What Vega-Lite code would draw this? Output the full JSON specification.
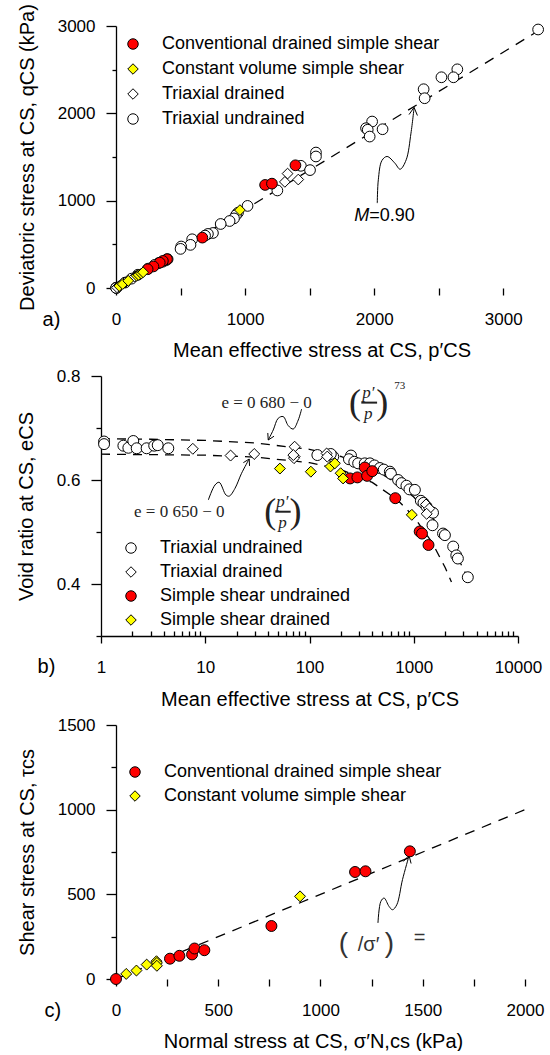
{
 "$schema": "https://vega.github.io/schema/vega-lite/v6.json",
 "padding": {"left": 16, "top": 3, "right": 0, "bottom": 0},
 "spacing": 7,
 "config": {
  "view": {"stroke": null},
  "font": "Liberation Sans",
  "axis": {"grid": false, "domainColor": "black", "domainWidth": 1.3, "tickColor": "black", "tickWidth": 1.3, "labelColor": "black", "titleColor": "black", "labelFont": "Liberation Sans", "titleFont": "Liberation Sans", "labelFontSize": 17, "titleFontSize": 20, "titleFontWeight": "normal", "labelFlush": false, "labelOverlap": false},
  "legend": {"title": null, "orient": "none", "padding": 0, "labelFont": "Liberation Sans", "labelFontSize": 18, "labelColor": "black", "labelOffset": 20, "labelLimit": 500, "rowPadding": 7, "symbolStrokeWidth": 1, "symbolSize": 110},
  "text": {"color": "black"}
 },
 "datasets": {
  "one": [{"k": 1}],
  "a_line": [{"x": 0, "y": 0}, {"x": 3300, "y": 2970}],
  "a_arrow": [{"i":0,"x":2024,"y":972},{"i":1,"x":2032,"y":1239},{"i":2,"x":2060,"y":1460},{"i":3,"x":2100,"y":1506},{"i":4,"x":2160,"y":1430},{"i":5,"x":2201,"y":1360},{"i":6,"x":2248,"y":1468},{"i":7,"x":2285,"y":1773},{"i":8,"x":2309,"y":2065}],
  "a_head": [{"i":0,"x":2270,"y":1986},{"i":1,"x":2309,"y":2068},{"i":2,"x":2335,"y":1975}],
  "a_M": [{"x": 1962, "y": 827, "t": "M"}],
  "a_M2": [{"x": 1962, "y": 827, "t": "=0.90"}],
  "a_lab": [{"x": -500, "y": -363, "t": "a)"}],
  "a_pts": [
   {"s":"Triaxial undrained","x":3270,"y":2960},{"s":"Triaxial undrained","x":2644,"y":2504},{"s":"Triaxial undrained","x":2614,"y":2413},{"s":"Triaxial undrained","x":2521,"y":2413},{"s":"Triaxial undrained","x":2383,"y":2276},{"s":"Triaxial undrained","x":2391,"y":2173},{"s":"Triaxial undrained","x":1984,"y":1906},{"s":"Triaxial undrained","x":1937,"y":1830},{"s":"Triaxial undrained","x":1950,"y":1812},{"s":"Triaxial undrained","x":1965,"y":1734},{"s":"Triaxial undrained","x":2065,"y":1818},{"s":"Triaxial undrained","x":1549,"y":1551},{"s":"Triaxial undrained","x":1549,"y":1506},{"s":"Triaxial undrained","x":1432,"y":1399},{"s":"Triaxial undrained","x":1503,"y":1350},{"s":"Triaxial undrained","x":1250,"y":1117},{"s":"Triaxial undrained","x":1019,"y":940},{"s":"Triaxial undrained","x":945,"y":862},{"s":"Triaxial undrained","x":930,"y":835},{"s":"Triaxial undrained","x":914,"y":797},{"s":"Triaxial undrained","x":880,"y":767},{"s":"Triaxial undrained","x":811,"y":733},{"s":"Triaxial undrained","x":751,"y":630},{"s":"Triaxial undrained","x":712,"y":619},{"s":"Triaxial undrained","x":690,"y":600},{"s":"Triaxial undrained","x":590,"y":558},{"s":"Triaxial undrained","x":577,"y":494},{"s":"Triaxial undrained","x":505,"y":475},{"s":"Triaxial undrained","x":500,"y":448},{"s":"Triaxial undrained","x":400,"y":330},{"s":"Triaxial undrained","x":385,"y":315},{"s":"Triaxial undrained","x":360,"y":300},{"s":"Triaxial undrained","x":330,"y":285},{"s":"Triaxial undrained","x":300,"y":265},{"s":"Triaxial undrained","x":250,"y":222},{"s":"Triaxial undrained","x":170,"y":152},{"s":"Triaxial undrained","x":120,"y":107},{"s":"Triaxial undrained","x":70,"y":62},{"s":"Triaxial undrained","x":4,"y":4},{"s":"Triaxial undrained","x":3,"y":3},{"s":"Triaxial undrained","x":2,"y":2},{"s":"Triaxial undrained","x":1,"y":1},
   {"s":"Triaxial drained","x":1329,"y":1310},{"s":"Triaxial drained","x":1412,"y":1242},{"s":"Triaxial drained","x":1308,"y":1215},{"s":"Triaxial drained","x":150,"y":135},{"s":"Triaxial drained","x":144,"y":130},{"s":"Triaxial drained","x":72,"y":65},{"s":"Triaxial drained","x":70,"y":63},{"s":"Triaxial drained","x":29,"y":26},{"s":"Triaxial drained","x":17,"y":15},{"s":"Triaxial drained","x":8,"y":7},
   {"s":"Conventional drained simple shear","x":1390,"y":1405},{"s":"Conventional drained simple shear","x":1155,"y":1180},{"s":"Conventional drained simple shear","x":1208,"y":1195},{"s":"Conventional drained simple shear","x":669,"y":577},{"s":"Conventional drained simple shear","x":395,"y":330},{"s":"Conventional drained simple shear","x":363,"y":310},{"s":"Conventional drained simple shear","x":339,"y":290},{"s":"Conventional drained simple shear","x":290,"y":247},{"s":"Conventional drained simple shear","x":245,"y":215},
   {"s":"Constant volume simple shear","x":25,"y":22},{"s":"Constant volume simple shear","x":52,"y":45},{"s":"Constant volume simple shear","x":95,"y":82},{"s":"Constant volume simple shear","x":160,"y":140},{"s":"Constant volume simple shear","x":175,"y":150},{"s":"Constant volume simple shear","x":196,"y":165},{"s":"Constant volume simple shear","x":210,"y":180},{"s":"Constant volume simple shear","x":960,"y":892}
  ],
  "b_curves": [
   {"g":"u","x":1,"y":0.6793},{"g":"u","x":3,"y":0.6784},{"g":"u","x":10,"y":0.6761},{"g":"u","x":30,"y":0.6713},{"g":"u","x":100,"y":0.659},{"g":"u","x":200,"y":0.6452},{"g":"u","x":400,"y":0.6222},{"g":"u","x":700,"y":0.593},{"g":"u","x":1000,"y":0.5672},{"g":"u","x":1500,"y":0.5284},{"g":"u","x":2000,"y":0.4929},{"g":"u","x":2500,"y":0.4599},{"g":"u","x":3000,"y":0.4284},{"g":"u","x":3300,"y":0.4104},
   {"g":"l","x":1,"y":0.6497},{"g":"l","x":10,"y":0.6477},{"g":"l","x":30,"y":0.6441},{"g":"l","x":100,"y":0.6334},{"g":"l","x":200,"y":0.6199},{"g":"l","x":400,"y":0.5954},{"g":"l","x":700,"y":0.5615},{"g":"l","x":1000,"y":0.5298},{"g":"l","x":1500,"y":0.4797},{"g":"l","x":2000,"y":0.4317},{"g":"l","x":2300,"y":0.4037}
  ],
  "b_arrow": [
   {"g":"u","i":0,"x":84,"y":0.7365},{"g":"u","i":1,"x":78,"y":0.7154},{"g":"u","i":2,"x":69.8,"y":0.698},{"g":"u","i":3,"x":62.5,"y":0.7046},{"g":"u","i":4,"x":56,"y":0.7219},{"g":"u","i":5,"x":50.1,"y":0.7187},{"g":"u","i":6,"x":44.9,"y":0.6962},{"g":"u","i":7,"x":40.2,"y":0.6769},
   {"g":"l","i":0,"x":10.7,"y":0.5615},{"g":"l","i":1,"x":12.4,"y":0.5904},{"g":"l","i":2,"x":13.6,"y":0.5956},{"g":"l","i":3,"x":15.8,"y":0.5712},{"g":"l","i":4,"x":17,"y":0.569},{"g":"l","i":5,"x":19.3,"y":0.584},{"g":"l","i":6,"x":22.3,"y":0.6129},{"g":"l","i":7,"x":26.4,"y":0.6404}
  ],
  "b_head": [
   {"g":"u","i":0,"x":45.7,"y":0.6842},{"g":"u","i":1,"x":40.2,"y":0.6769},{"g":"u","i":2,"x":39.8,"y":0.6904},
   {"g":"l","i":0,"x":26.6,"y":0.6271},{"g":"l","i":1,"x":26.4,"y":0.6404},{"g":"l","i":2,"x":23.2,"y":0.6333}
  ],
  "b_eq": [{"x":38.8,"y":0.7475,"t":"e = 0 680 − 0"},{"x":5.63,"y":0.538,"t":"e = 0 650 − 0"}],
  "b_frac": [{"x":366,"y":0.767,"t":"p′"},{"x":366,"y":0.727,"t":"p"},{"x":55,"y":0.557,"t":"p′"},{"x":55,"y":0.518,"t":"p"}],
  "b_paren": [{"x":273,"y":0.748,"t":"("},{"x":500,"y":0.748,"t":")"},{"x":42,"y":0.539,"t":"("},{"x":73.5,"y":0.539,"t":")"}],
  "b_bar": [{"x":314,"x2":445,"y":0.7488},{"x":47,"x2":66,"y":0.539}],
  "b_exp": [{"x":736,"y":0.781,"t":"73"}],
  "b_lab": [{"x":0.3,"y":0.241,"t":"b)"}],
  "b_pts": [
   {"s":"Triaxial undrained","x":1.07,"y":0.674},{"s":"Triaxial undrained","x":1.07,"y":0.669},{"s":"Triaxial undrained","x":1.64,"y":0.666},{"s":"Triaxial undrained","x":1.83,"y":0.662},{"s":"Triaxial undrained","x":2.04,"y":0.675},{"s":"Triaxial undrained","x":2.2,"y":0.661},{"s":"Triaxial undrained","x":2.74,"y":0.661},{"s":"Triaxial undrained","x":3.24,"y":0.666},{"s":"Triaxial undrained","x":3.5,"y":0.667},{"s":"Triaxial undrained","x":4.42,"y":0.661},{"s":"Triaxial undrained","x":119,"y":0.648},{"s":"Triaxial undrained","x":169,"y":0.645},{"s":"Triaxial undrained","x":160,"y":0.65},{"s":"Triaxial undrained","x":250,"y":0.647},{"s":"Triaxial undrained","x":239,"y":0.64},{"s":"Triaxial undrained","x":269,"y":0.635},{"s":"Triaxial undrained","x":293,"y":0.632},{"s":"Triaxial undrained","x":339,"y":0.632},{"s":"Triaxial undrained","x":380,"y":0.632},{"s":"Triaxial undrained","x":420,"y":0.628},{"s":"Triaxial undrained","x":473,"y":0.623},{"s":"Triaxial undrained","x":516,"y":0.62},{"s":"Triaxial undrained","x":590,"y":0.616},{"s":"Triaxial undrained","x":604,"y":0.612},{"s":"Triaxial undrained","x":708,"y":0.6},{"s":"Triaxial undrained","x":763,"y":0.594},{"s":"Triaxial undrained","x":851,"y":0.589},{"s":"Triaxial undrained","x":910,"y":0.582},{"s":"Triaxial undrained","x":1025,"y":0.581},{"s":"Triaxial undrained","x":1170,"y":0.56},{"s":"Triaxial undrained","x":1240,"y":0.556},{"s":"Triaxial undrained","x":1325,"y":0.549},{"s":"Triaxial undrained","x":1430,"y":0.54},{"s":"Triaxial undrained","x":1530,"y":0.537},{"s":"Triaxial undrained","x":1513,"y":0.513},{"s":"Triaxial undrained","x":1910,"y":0.497},{"s":"Triaxial undrained","x":1990,"y":0.494},{"s":"Triaxial undrained","x":2390,"y":0.472},{"s":"Triaxial undrained","x":2560,"y":0.455},{"s":"Triaxial undrained","x":2650,"y":0.449},{"s":"Triaxial undrained","x":3300,"y":0.413},
   {"s":"Triaxial drained","x":7.6,"y":0.66},{"s":"Triaxial drained","x":17.5,"y":0.647},{"s":"Triaxial drained","x":29.5,"y":0.65},{"s":"Triaxial drained","x":72,"y":0.664},{"s":"Triaxial drained","x":72,"y":0.645},{"s":"Triaxial drained","x":71,"y":0.642},{"s":"Triaxial drained","x":70,"y":0.648},{"s":"Triaxial drained","x":146,"y":0.651},{"s":"Triaxial drained","x":148,"y":0.645},{"s":"Triaxial drained","x":1310,"y":0.553},{"s":"Triaxial drained","x":1410,"y":0.545},{"s":"Triaxial drained","x":1330,"y":0.535},
   {"s":"Simple shear undrained","x":245,"y":0.603},{"s":"Simple shear undrained","x":288,"y":0.605},{"s":"Simple shear undrained","x":339,"y":0.624},{"s":"Simple shear undrained","x":357,"y":0.608},{"s":"Simple shear undrained","x":400,"y":0.617},{"s":"Simple shear undrained","x":665,"y":0.565},{"s":"Simple shear undrained","x":1140,"y":0.501},{"s":"Simple shear undrained","x":1200,"y":0.497},{"s":"Simple shear undrained","x":1385,"y":0.475},
   {"s":"Simple shear drained","x":52,"y":0.622},{"s":"Simple shear drained","x":103,"y":0.616},{"s":"Simple shear drained","x":159,"y":0.626},{"s":"Simple shear drained","x":175,"y":0.632},{"s":"Simple shear drained","x":199,"y":0.613},{"s":"Simple shear drained","x":210,"y":0.603},{"s":"Simple shear drained","x":958,"y":0.533}
  ],
  "c_line": [{"x":0,"y":0},{"x":2000,"y":1000}],
  "c_arrow": [{"i":0,"x":1281,"y":331},{"i":1,"x":1295,"y":458},{"i":2,"x":1311,"y":478},{"i":3,"x":1335,"y":429},{"i":4,"x":1352,"y":409},{"i":5,"x":1373,"y":438},{"i":6,"x":1401,"y":587},{"i":7,"x":1433,"y":728}],
  "c_head": [{"i":0,"x":1405,"y":694},{"i":1,"x":1433,"y":730},{"i":2,"x":1443,"y":682}],
  "c_par": [{"x":1112,"y":205,"t":"("},{"x":1337,"y":205,"t":")"}],
  "c_sig": [{"x":1235,"y":203,"t":"/σ′"},{"x":1485,"y":242,"t":"="}],
  "c_lab": [{"x":-309,"y":-191,"t":"c)"}],
  "c_pts": [
   {"s":"Constant volume simple shear","x":50,"y":30},{"s":"Constant volume simple shear","x":100,"y":50},{"s":"Constant volume simple shear","x":150,"y":85},{"s":"Constant volume simple shear","x":198,"y":105},{"s":"Constant volume simple shear","x":200,"y":95},{"s":"Constant volume simple shear","x":200,"y":78},{"s":"Constant volume simple shear","x":900,"y":488},
   {"s":"Conventional drained simple shear","x":0,"y":0},{"s":"Conventional drained simple shear","x":264,"y":120},{"s":"Conventional drained simple shear","x":310,"y":137},{"s":"Conventional drained simple shear","x":372,"y":145},{"s":"Conventional drained simple shear","x":384,"y":180},{"s":"Conventional drained simple shear","x":432,"y":170},{"s":"Conventional drained simple shear","x":760,"y":313},{"s":"Conventional drained simple shear","x":1169,"y":632},{"s":"Conventional drained simple shear","x":1220,"y":636},{"s":"Conventional drained simple shear","x":1437,"y":754}
  ]
 },
 "vconcat": [
  {
   "width": 441, "height": 262,
   "encoding": {
    "x": {"field": "x", "type": "quantitative", "scale": {"domain": [-116.2, 3300], "nice": false, "zero": false},
     "axis": {"title": "Mean effective stress at CS, p′CS", "domain": false, "values": [0,500,1000,1500,2000,2500,3000], "format": "d", "labelExpr": "datum.value % 1000 === 0 ? datum.label : ''", "tickSize": 7, "labelPadding": 16, "titlePadding": 13}},
    "y": {"field": "y", "type": "quantitative", "scale": {"domain": [0, 3000], "nice": false, "zero": false},
     "axis": {"title": "Deviatoric stress at CS, qCS (kPa)", "offset": -15, "values": [0,500,1000,1500,2000,2500,3000], "format": "d", "labelExpr": "datum.value % 1000 === 0 ? datum.label : ''", "tickSize": {"condition": {"test": "datum.value % 1000 === 0", "value": 10}, "value": 4}, "labelPadding": 11, "titlePadding": 20}}
   },
   "layer": [
    {"data": {"name": "one"}, "mark": {"type": "rule", "color": "black", "strokeWidth": 1.3}, "encoding": {"x": {"datum": 0}, "x2": {"datum": 3300}, "y": {"datum": 0}}},
    {"data": {"name": "a_line"}, "mark": {"type": "line", "color": "black", "strokeWidth": 1.3, "strokeDash": [10, 8]}, "encoding": {}},
    {"data": {"name": "a_arrow"}, "mark": {"type": "line", "color": "black", "strokeWidth": 1, "interpolate": "catmull-rom"}, "encoding": {"order": {"field": "i", "type": "quantitative"}}},
    {"data": {"name": "a_head"}, "mark": {"type": "line", "color": "black", "strokeWidth": 1}, "encoding": {"order": {"field": "i", "type": "quantitative"}}},
    {"data": {"name": "a_pts"}, "mark": {"type": "point", "filled": true, "strokeWidth": 1, "size": 115, "opacity": 1},
     "encoding": {
      "fill": {"field": "s", "type": "nominal", "scale": {"domain": ["Conventional drained simple shear", "Constant volume simple shear", "Triaxial drained", "Triaxial undrained"], "range": ["#ff0000", "#ffff00", "#ffffff", "#ffffff"]}, "legend": {"legendX": 23, "legendY": 9, "rowPadding": 7}},
      "stroke": {"field": "s", "type": "nominal", "scale": {"domain": ["Conventional drained simple shear", "Constant volume simple shear", "Triaxial drained", "Triaxial undrained"], "range": ["#000000", "#000000", "#000000", "#000000"]}, "legend": {"legendX": 23, "legendY": 9, "rowPadding": 7}},
      "shape": {"field": "s", "type": "nominal", "scale": {"domain": ["Conventional drained simple shear", "Constant volume simple shear", "Triaxial drained", "Triaxial undrained"], "range": ["circle", "diamond", "diamond", "circle"]}, "legend": {"legendX": 23, "legendY": 9, "rowPadding": 7}}
     }},
    {"data": {"name": "a_M"}, "mark": {"type": "text", "align": "right", "baseline": "middle", "fontStyle": "italic", "fontSize": 18, "font": "Liberation Sans"}, "encoding": {"text": {"field": "t"}}},
    {"data": {"name": "a_M2"}, "mark": {"type": "text", "align": "left", "baseline": "middle", "fontSize": 18, "font": "Liberation Sans"}, "encoding": {"text": {"field": "t"}}},
    {"data": {"name": "a_lab"}, "mark": {"type": "text", "align": "center", "baseline": "middle", "fontSize": 20, "font": "Liberation Sans"}, "encoding": {"text": {"field": "t"}}}
   ]
  },
  {
   "width": 417, "height": 260,
   "encoding": {
    "x": {"field": "x", "type": "quantitative", "scale": {"type": "log", "domain": [1, 10000], "nice": false},
     "axis": {"title": "Mean effective stress at CS, p′CS", "values": [1,2,3,4,5,6,7,8,9,10,20,30,40,50,60,70,80,90,100,200,300,400,500,600,700,800,900,1000,2000,3000,4000,5000,6000,7000,8000,9000,10000], "labelExpr": "indexof([1,10,100,1000,10000], datum.value) >= 0 ? format(datum.value, 'd') : ''", "tickSize": {"condition": {"test": "indexof([1,10,100,1000,10000], datum.value) >= 0", "value": 7}, "value": -5}, "labelPadding": 16, "titlePadding": 14}},
    "y": {"field": "y", "type": "quantitative", "scale": {"domain": [0.3, 0.8], "nice": false, "zero": false},
     "axis": {"title": "Void ratio at CS, eCS", "values": [0.3,0.4,0.5,0.6,0.7,0.8], "labelExpr": "(round(datum.value*10) % 2 === 0 && datum.value > 0.35) ? format(datum.value, '.1f') : ''", "tickSize": {"condition": {"test": "round(datum.value*10) % 2 === 0", "value": 10}, "value": 5}, "labelPadding": 11, "titlePadding": 20}}
   },
   "layer": [
    {"data": {"name": "b_curves"}, "mark": {"type": "line", "color": "black", "strokeWidth": 1.3, "strokeDash": [9, 7]}, "encoding": {"detail": {"field": "g"}}},
    {"data": {"name": "b_arrow"}, "mark": {"type": "line", "color": "black", "strokeWidth": 1, "interpolate": "catmull-rom"}, "encoding": {"detail": {"field": "g"}, "order": {"field": "i", "type": "quantitative"}}},
    {"data": {"name": "b_head"}, "mark": {"type": "line", "color": "black", "strokeWidth": 1}, "encoding": {"detail": {"field": "g"}, "order": {"field": "i", "type": "quantitative"}}},
    {"data": {"name": "b_pts"}, "mark": {"type": "point", "filled": true, "strokeWidth": 1, "size": 120, "opacity": 1},
     "encoding": {
      "fill": {"field": "s", "type": "nominal", "scale": {"domain": ["Triaxial undrained", "Triaxial drained", "Simple shear undrained", "Simple shear drained"], "range": ["#ffffff", "#ffffff", "#ff0000", "#ffff00"]}, "legend": {"legendX": 21, "legendY": 163, "rowPadding": 6}},
      "stroke": {"field": "s", "type": "nominal", "scale": {"domain": ["Triaxial undrained", "Triaxial drained", "Simple shear undrained", "Simple shear drained"], "range": ["#000000", "#000000", "#000000", "#000000"]}, "legend": {"legendX": 21, "legendY": 163, "rowPadding": 6}},
      "shape": {"field": "s", "type": "nominal", "scale": {"domain": ["Triaxial undrained", "Triaxial drained", "Simple shear undrained", "Simple shear drained"], "range": ["circle", "diamond", "circle", "diamond"]}, "legend": {"legendX": 21, "legendY": 163, "rowPadding": 6}}
     }},
    {"data": {"name": "b_eq"}, "mark": {"type": "text", "align": "center", "baseline": "middle", "fontSize": 17, "font": "Liberation Serif", "color": "#222222"}, "encoding": {"text": {"field": "t"}}},
    {"data": {"name": "b_frac"}, "mark": {"type": "text", "align": "center", "baseline": "middle", "fontSize": 17, "fontStyle": "italic", "font": "Liberation Serif", "color": "#222222"}, "encoding": {"text": {"field": "t"}}},
    {"data": {"name": "b_paren"}, "mark": {"type": "text", "align": "center", "baseline": "middle", "fontSize": 36, "font": "Liberation Serif", "color": "#222222"}, "encoding": {"text": {"field": "t"}}},
    {"data": {"name": "b_bar"}, "mark": {"type": "rule", "color": "#222222", "strokeWidth": 2}, "encoding": {"x2": {"field": "x2"}}},
    {"data": {"name": "b_exp"}, "mark": {"type": "text", "align": "center", "baseline": "middle", "fontSize": 11, "font": "Liberation Serif", "color": "#222222"}, "encoding": {"text": {"field": "t"}}},
    {"data": {"name": "b_lab"}, "mark": {"type": "text", "align": "center", "baseline": "middle", "fontSize": 20, "font": "Liberation Sans"}, "encoding": {"text": {"field": "t"}}}
   ]
  },
  {
   "width": 424, "height": 254,
   "encoding": {
    "x": {"field": "x", "type": "quantitative", "scale": {"domain": [-73.3, 2000], "nice": false, "zero": false},
     "axis": {"title": "Normal stress at CS, σ′N,cs (kPa)", "domain": false, "values": [0,250,500,750,1000,1250,1500,1750,2000], "format": "d", "labelExpr": "datum.value % 500 === 0 ? datum.label : ''", "tickSize": 7, "labelPadding": 16, "titlePadding": 13}},
    "y": {"field": "y", "type": "quantitative", "scale": {"domain": [0, 1500], "nice": false, "zero": false},
     "axis": {"title": "Shear stress at CS, τcs", "offset": -15, "values": [0,250,500,750,1000,1250,1500], "format": "d", "labelExpr": "datum.value % 500 === 0 ? datum.label : ''", "tickSize": {"condition": {"test": "datum.value % 500 === 0", "value": 10}, "value": 5}, "labelPadding": 11, "titlePadding": 20}}
   },
   "layer": [
    {"data": {"name": "one"}, "mark": {"type": "rule", "color": "black", "strokeWidth": 1.3}, "encoding": {"x": {"datum": 0}, "x2": {"datum": 2000}, "y": {"datum": 0}}},
    {"data": {"name": "c_line"}, "mark": {"type": "line", "color": "black", "strokeWidth": 1.3, "strokeDash": [10, 8]}, "encoding": {}},
    {"data": {"name": "c_arrow"}, "mark": {"type": "line", "color": "black", "strokeWidth": 1, "interpolate": "catmull-rom"}, "encoding": {"order": {"field": "i", "type": "quantitative"}}},
    {"data": {"name": "c_head"}, "mark": {"type": "line", "color": "black", "strokeWidth": 1}, "encoding": {"order": {"field": "i", "type": "quantitative"}}},
    {"data": {"name": "c_pts"}, "mark": {"type": "point", "filled": true, "strokeWidth": 1, "size": 120, "opacity": 1},
     "encoding": {
      "fill": {"field": "s", "type": "nominal", "scale": {"domain": ["Conventional drained simple shear", "Constant volume simple shear"], "range": ["#ff0000", "#ffff00"]}, "legend": {"legendX": 25, "legendY": 38, "rowPadding": 6}},
      "stroke": {"field": "s", "type": "nominal", "scale": {"domain": ["Conventional drained simple shear", "Constant volume simple shear"], "range": ["#000000", "#000000"]}, "legend": {"legendX": 25, "legendY": 38, "rowPadding": 6}},
      "shape": {"field": "s", "type": "nominal", "scale": {"domain": ["Conventional drained simple shear", "Constant volume simple shear"], "range": ["circle", "diamond"]}, "legend": {"legendX": 25, "legendY": 38, "rowPadding": 6}}
     }},
    {"data": {"name": "c_par"}, "mark": {"type": "text", "align": "center", "baseline": "middle", "fontSize": 28, "font": "Liberation Sans", "color": "#333333"}, "encoding": {"text": {"field": "t"}}},
    {"data": {"name": "c_sig"}, "mark": {"type": "text", "align": "center", "baseline": "middle", "fontSize": 20, "font": "Liberation Sans", "color": "#333333"}, "encoding": {"text": {"field": "t"}}},
    {"data": {"name": "c_lab"}, "mark": {"type": "text", "align": "center", "baseline": "middle", "fontSize": 20, "font": "Liberation Sans"}, "encoding": {"text": {"field": "t"}}}
   ]
  }
 ],
 "resolve": {"scale": {"fill": "independent", "shape": "independent", "stroke": "independent"}, "legend": {"fill": "independent", "shape": "independent", "stroke": "independent"}}
}
